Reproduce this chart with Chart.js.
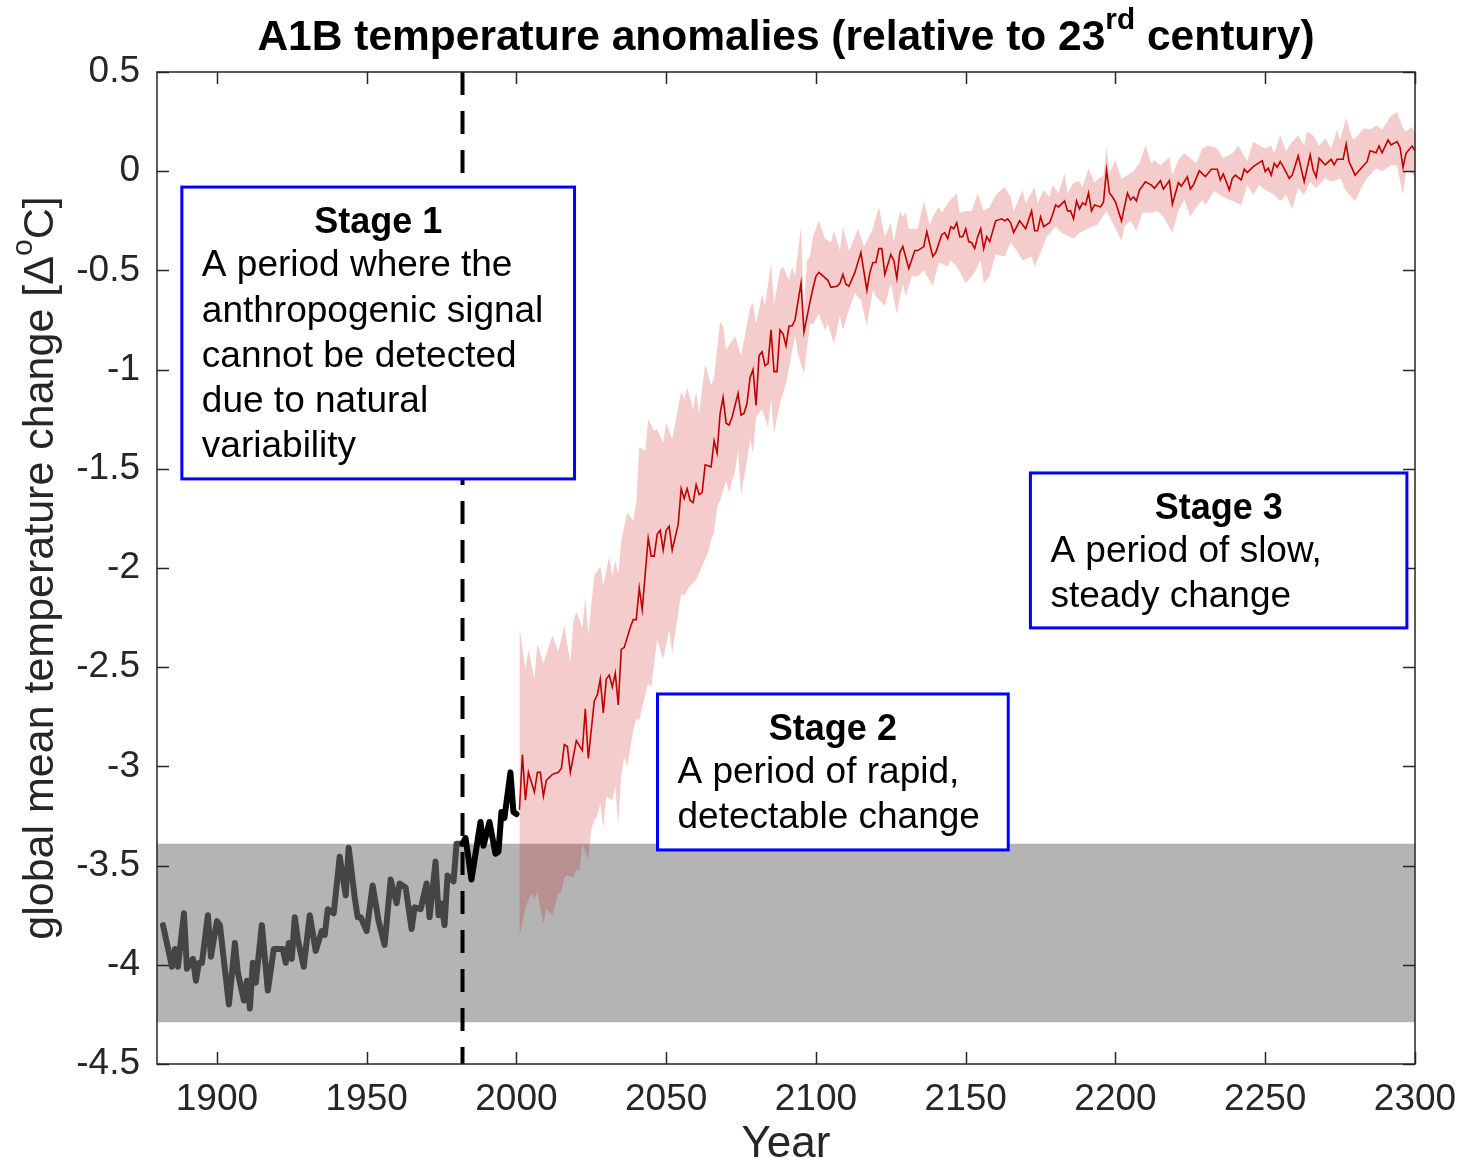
<!DOCTYPE html>
<html>
<head>
<meta charset="utf-8">
<script src="https://cdn.jsdelivr.net/npm/chart.js@4.4.1/dist/chart.umd.min.js"></script>
<style>
  html, body { margin: 0; padding: 0; background: #fff; }
  canvas { display: block; }
</style>
</head>
<body>
<canvas id="chart" width="1462" height="1162"></canvas>
<script>
// observed record, grey part (before detection)
const histYears = [1882, 1885, 1886, 1887, 1889, 1890, 1892, 1893, 1894, 1895,
  1897, 1898, 1900, 1901, 1904, 1906, 1907, 1909, 1910, 1911,
  1912, 1913, 1915, 1917, 1919, 1921, 1922, 1923, 1924, 1925,
  1926, 1927, 1929, 1931, 1933, 1935, 1936, 1937, 1939, 1941,
  1943, 1944, 1946, 1947, 1948, 1950, 1952, 1954, 1956, 1958,
  1960, 1961, 1963, 1965, 1966, 1968, 1970, 1971, 1973, 1974,
  1975, 1976, 1977, 1979, 1980, 1982];
const histTemps = [-3.80, -4.01, -3.92, -4.01, -3.74, -4.02, -3.97, -4.08, -3.99, -3.99,
  -3.75, -3.96, -3.78, -3.80, -4.20, -3.89, -4.04, -4.18, -4.08, -4.22,
  -3.99, -4.09, -3.80, -4.13, -3.92, -3.92, -3.92, -3.99, -3.89, -3.97,
  -3.76, -3.87, -4.01, -3.75, -3.93, -3.83, -3.85, -3.72, -3.74, -3.455,
  -3.65, -3.41, -3.66, -3.76, -3.76, -3.83, -3.60, -3.78, -3.90, -3.57,
  -3.69, -3.59, -3.61, -3.82, -3.71, -3.72, -3.59, -3.76, -3.48, -3.75,
  -3.69, -3.80, -3.55, -3.58, -3.39, -3.39];

// observed record, black part
const recentYears = [1982, 1983, 1985, 1988, 1989, 1991, 1993, 1994, 1995, 1996, 1998, 1999, 2000];
const recentTemps = [-3.39, -3.36, -3.57, -3.28, -3.40, -3.28, -3.44, -3.43, -3.23, -3.26, -3.03, -3.23, -3.24];

// A1B ensemble mean
const projYears = [2001, 2002, 2003, 2004, 2006, 2007, 2008, 2009, 2010, 2012,
  2014, 2015, 2016, 2017, 2018, 2020, 2022, 2023, 2024, 2026,
  2027, 2028, 2029, 2030, 2031, 2032, 2033, 2034, 2035, 2036,
  2038, 2039, 2040, 2041, 2042, 2044, 2045, 2046, 2047, 2048,
  2049, 2050, 2051, 2052, 2054, 2055, 2056, 2057, 2058, 2059,
  2060, 2061, 2062, 2063, 2065, 2066, 2067, 2068, 2069, 2070,
  2071, 2072, 2073, 2074, 2075, 2076, 2077, 2078, 2079, 2080,
  2081, 2082, 2083, 2084, 2085, 2086, 2087, 2088, 2089, 2090,
  2091, 2092, 2093, 2095, 2096, 2098, 2099, 2100, 2101, 2104,
  2105, 2107, 2108, 2109, 2110, 2111, 2113, 2115, 2117, 2118,
  2119, 2120, 2121, 2122, 2123, 2125, 2126, 2127, 2128, 2129,
  2131, 2133, 2134, 2136, 2137, 2139, 2140, 2142, 2143, 2144,
  2145, 2146, 2147, 2148, 2149, 2150, 2151, 2152, 2153, 2154,
  2155, 2156, 2157, 2158, 2160, 2162, 2163, 2164, 2165, 2166,
  2168, 2170, 2172, 2173, 2174, 2175, 2176, 2178, 2179, 2180,
  2181, 2183, 2184, 2185, 2186, 2187, 2188, 2189, 2190, 2191,
  2192, 2193, 2195, 2196, 2197, 2198, 2199, 2200, 2202, 2204,
  2205, 2206, 2207, 2208, 2210, 2212, 2213, 2215, 2216, 2218,
  2219, 2221, 2222, 2224, 2225, 2226, 2228, 2230, 2232, 2234,
  2235, 2236, 2238, 2239, 2240, 2242, 2243, 2244, 2246, 2249,
  2250, 2251, 2252, 2253, 2254, 2255, 2256, 2258, 2259, 2261,
  2263, 2265, 2266, 2267, 2268, 2270, 2272, 2273, 2274, 2276,
  2277, 2278, 2280, 2282, 2284, 2285, 2287, 2288, 2289, 2291,
  2292, 2294, 2295, 2296, 2297, 2299, 2300];
const projTemps = [-3.22, -2.94, -3.17, -3.03, -3.13, -3.03, -3.03, -3.15, -3.07, -3.04,
  -3.03, -3.01, -2.89, -2.90, -3.03, -2.87, -2.92, -2.71, -2.96, -2.67,
  -2.64, -2.56, -2.73, -2.56, -2.54, -2.60, -2.53, -2.69, -2.41, -2.40,
  -2.30, -2.26, -2.26, -2.10, -2.21, -1.85, -1.94, -1.94, -1.83, -1.81,
  -1.91, -1.81, -1.79, -1.91, -1.78, -1.60, -1.65, -1.60, -1.66, -1.67,
  -1.58, -1.63, -1.62, -1.48, -1.49, -1.36, -1.42, -1.22, -1.14, -1.27,
  -1.28, -1.24, -1.18, -1.12, -1.23, -1.22, -1.17, -1.04, -1.00, -1.18,
  -0.93, -0.91, -0.98, -0.97, -0.80, -1.01, -1.01, -0.80, -0.82, -0.88,
  -0.78, -0.78, -0.75, -0.565, -0.81, -0.66, -0.59, -0.53, -0.51, -0.55,
  -0.585, -0.58, -0.565, -0.52, -0.57, -0.58, -0.51, -0.41, -0.60, -0.51,
  -0.46, -0.46, -0.39, -0.39, -0.52, -0.42, -0.45, -0.54, -0.41, -0.38,
  -0.49, -0.40, -0.40, -0.38, -0.305, -0.43, -0.41, -0.32, -0.31, -0.34,
  -0.28, -0.29, -0.26, -0.33, -0.33, -0.29, -0.355, -0.36, -0.39, -0.33,
  -0.29, -0.39, -0.33, -0.355, -0.25, -0.24, -0.25, -0.24, -0.26, -0.31,
  -0.25, -0.29, -0.20, -0.30, -0.30, -0.23, -0.28, -0.26, -0.22, -0.17,
  -0.18, -0.15, -0.20, -0.20, -0.24, -0.15, -0.19, -0.16, -0.17, -0.11,
  -0.20, -0.17, -0.18, -0.155, 0.006, -0.11, -0.13, -0.155, -0.25, -0.11,
  -0.145, -0.13, -0.15, -0.095, -0.053, -0.07, -0.086, -0.048, -0.09, -0.048,
  -0.166, -0.058, -0.075, -0.028, -0.09, -0.07, 0.003, -0.027, 0.01, 0.01,
  -0.044, -0.014, -0.095, -0.036, -0.02, -0.044, 0.01, -0.007, 0.023, 0.053,
  -0.002, 0.015, -0.02, 0.04, 0.02, 0.048, 0.023, -0.036, -0.02, 0.077,
  -0.053, 0.082, 0.006, -0.03, 0.065, 0.032, 0.06, 0.032, 0.06, 0.06,
  0.137, 0.048, -0.02, 0.015, 0.048, 0.103, 0.093, 0.127, 0.093, 0.157,
  0.132, 0.149, 0.12, 0.02, 0.09, 0.127, 0.103];

// ensemble spread, upper edge
const spreadTopYears = [2001, 2003, 2004, 2006, 2007, 2009, 2012, 2014, 2016, 2018,
  2019, 2020, 2022, 2023, 2024, 2026, 2028, 2029, 2031, 2032,
  2033, 2034, 2035, 2037, 2039, 2040, 2041, 2043, 2044, 2046,
  2047, 2049, 2050, 2052, 2055, 2056, 2057, 2059, 2060, 2061,
  2063, 2065, 2066, 2068, 2069, 2070, 2073, 2075, 2078, 2079,
  2080, 2082, 2083, 2085, 2086, 2088, 2089, 2091, 2092, 2093,
  2095, 2096, 2097, 2098, 2099, 2101, 2103, 2105, 2106, 2108,
  2109, 2111, 2113, 2114, 2116, 2117, 2119, 2121, 2123, 2125,
  2126, 2128, 2129, 2130, 2131, 2134, 2136, 2138, 2139, 2141,
  2142, 2144, 2147, 2148, 2150, 2152, 2154, 2156, 2158, 2160,
  2163, 2165, 2166, 2169, 2170, 2173, 2174, 2176, 2178, 2179,
  2181, 2183, 2184, 2186, 2188, 2189, 2191, 2193, 2194, 2196,
  2197, 2198, 2200, 2202, 2204, 2206, 2208, 2210, 2212, 2213,
  2215, 2218, 2219, 2221, 2223, 2225, 2227, 2229, 2231, 2234,
  2236, 2239, 2241, 2244, 2246, 2248, 2250, 2252, 2253, 2255,
  2257, 2258, 2261, 2263, 2264, 2266, 2268, 2270, 2272, 2274,
  2275, 2277, 2279, 2280, 2283, 2285, 2287, 2289, 2292, 2294,
  2296, 2297, 2299, 2300];
const spreadTopTemps = [-2.30, -2.51, -2.41, -2.56, -2.38, -2.48, -2.34, -2.42, -2.29, -2.48,
  -2.27, -2.22, -2.30, -2.15, -2.33, -2.04, -1.99, -2.09, -1.94, -2.04,
  -1.96, -2.03, -1.86, -1.72, -1.76, -1.67, -1.39, -1.41, -1.25, -1.31,
  -1.30, -1.37, -1.27, -1.35, -1.11, -1.15, -1.09, -1.20, -1.11, -1.22,
  -0.97, -1.08, -1.04, -0.76, -0.78, -0.90, -0.83, -0.93, -0.69, -0.66,
  -0.77, -0.62, -0.68, -0.46, -0.67, -0.50, -0.48, -0.55, -0.48, -0.53,
  -0.28, -0.70, -0.45, -0.43, -0.33, -0.25, -0.34, -0.36, -0.30, -0.40,
  -0.28, -0.40, -0.33, -0.29, -0.38, -0.35, -0.29, -0.18, -0.33, -0.26,
  -0.36, -0.20, -0.23, -0.21, -0.29, -0.29, -0.15, -0.27, -0.23, -0.18,
  -0.21, -0.16, -0.11, -0.21, -0.20, -0.20, -0.11, -0.20, -0.18, -0.12,
  -0.08, -0.13, -0.20, -0.095, -0.16, -0.08, -0.16, -0.095, -0.13, -0.07,
  -0.11, -0.01, -0.11, -0.06, -0.05, -0.08, 0.015, -0.06, -0.04, -0.02,
  0.12, -0.01, 0.056, -0.04, -0.02, 0.0, 0.04, 0.13, 0.04, 0.056,
  0.03, 0.07, -0.02, 0.056, 0.09, 0.065, 0.04, 0.115, 0.13, 0.115,
  0.065, 0.09, 0.13, 0.05, 0.15, 0.13, 0.115, 0.13, 0.09, 0.18,
  0.10, 0.13, 0.18, 0.13, 0.20, 0.18, 0.13, 0.165, 0.115, 0.21,
  0.157, 0.27, 0.165, 0.165, 0.216, 0.21, 0.23, 0.21, 0.28, 0.30,
  0.216, 0.20, 0.224, 0.19];

// ensemble spread, lower edge
const spreadBottomYears = [2001, 2003, 2005, 2006, 2007, 2008, 2009, 2010, 2012, 2014,
  2015, 2016, 2017, 2019, 2020, 2021, 2022, 2024, 2025, 2026,
  2027, 2028, 2029, 2030, 2032, 2033, 2034, 2035, 2036, 2037,
  2039, 2040, 2041, 2042, 2044, 2045, 2046, 2047, 2049, 2051,
  2052, 2054, 2055, 2056, 2058, 2060, 2062, 2064, 2065, 2066,
  2067, 2068, 2070, 2071, 2073, 2074, 2075, 2077, 2078, 2079,
  2080, 2082, 2084, 2085, 2086, 2088, 2090, 2093, 2094, 2096,
  2098, 2099, 2101, 2103, 2104, 2106, 2108, 2109, 2111, 2113,
  2115, 2117, 2119, 2120, 2123, 2125, 2127, 2129, 2130, 2132,
  2134, 2136, 2138, 2139, 2141, 2144, 2145, 2147, 2150, 2153,
  2155, 2156, 2158, 2160, 2163, 2165, 2167, 2169, 2172, 2173,
  2175, 2177, 2180, 2182, 2186, 2188, 2192, 2194, 2197, 2199,
  2202, 2203, 2205, 2207, 2209, 2212, 2214, 2216, 2219, 2221,
  2223, 2225, 2227, 2229, 2230, 2233, 2235, 2237, 2239, 2242,
  2244, 2246, 2248, 2250, 2253, 2255, 2257, 2259, 2261, 2263,
  2265, 2267, 2268, 2270, 2272, 2275, 2277, 2280, 2282, 2284,
  2287, 2289, 2292, 2294, 2296, 2297, 2299, 2300];
const spreadBottomTemps = [-3.86, -3.71, -3.64, -3.67, -3.63, -3.72, -3.79, -3.72, -3.75, -3.64,
  -3.63, -3.56, -3.55, -3.56, -3.52, -3.53, -3.39, -3.47, -3.32, -3.27,
  -3.25, -3.19, -3.31, -3.15, -3.17, -3.10, -3.29, -3.05, -2.95, -3.00,
  -2.82, -2.76, -2.77, -2.70, -2.58, -2.60, -2.48, -2.36, -2.46, -2.31,
  -2.43, -2.23, -2.13, -2.14, -2.09, -2.06, -1.99, -1.92, -1.86, -1.82,
  -1.69, -1.66, -1.56, -1.62, -1.51, -1.41, -1.63, -1.46, -1.35, -1.42,
  -1.24, -1.20, -1.29, -1.15, -1.32, -1.17, -1.07, -0.83, -0.92, -1.02,
  -0.77, -0.77, -0.72, -0.80, -0.77, -0.87, -0.73, -0.80, -0.70, -0.615,
  -0.65, -0.78, -0.60, -0.63, -0.68, -0.565, -0.72, -0.565, -0.63, -0.53,
  -0.53, -0.50, -0.55, -0.58, -0.46, -0.48, -0.45, -0.48, -0.565, -0.51,
  -0.45, -0.565, -0.53, -0.42, -0.43, -0.36, -0.40, -0.45, -0.43, -0.48,
  -0.41, -0.33, -0.28, -0.31, -0.34, -0.31, -0.28, -0.27, -0.20, -0.26,
  -0.35, -0.28, -0.25, -0.30, -0.21, -0.21, -0.20, -0.23, -0.31, -0.20,
  -0.145, -0.23, -0.18, -0.145, -0.17, -0.10, -0.12, -0.137, -0.15, -0.17,
  -0.07, -0.12, -0.07, -0.095, -0.12, -0.15, -0.12, -0.19, -0.086, -0.12,
  -0.053, -0.086, -0.07, -0.036, -0.053, -0.036, -0.10, -0.15, -0.086, -0.036,
  0.015, 0.0, 0.03, 0.03, -0.12, 0.0, -0.01, -0.03];

// natural variability range (grey band) and the detection year
const naturalRangeTop = -3.39;
const naturalRangeBottom = -4.29;
const detectionYear = 1982;

const xTicks = [1900, 1950, 2000, 2050, 2100, 2150, 2200, 2250, 2300];
const yTicks = [0.5, 0, -0.5, -1, -1.5, -2, -2.5, -3, -3.5, -4, -4.5];
const yTickLabels = ['0.5', '0', '-0.5', '-1', '-1.5', '-2', '-2.5', '-3', '-3.5', '-4', '-4.5'];

const stages = [
  { x0: 1888.3, x1: 2019.4, y0: -0.08, y1: -1.551, title: 'Stage 1',
    lines: ['A period where the', 'anthropogenic signal', 'cannot be detected', 'due to natural', 'variability'] },
  { x0: 2047.1, x1: 2164.2, y0: -2.635, y1: -3.421, title: 'Stage 2',
    lines: ['A period of rapid,', 'detectable change'] },
  { x0: 2171.6, x1: 2297.3, y0: -1.521, y1: -2.302, title: 'Stage 3',
    lines: ['A period of slow,', 'steady change'] }
];

const FONT = '"Liberation Sans", Arial, Helvetica, sans-serif';
const AXIS_COLOR = '#262626';

function toPoints(xs, ys) {
  return xs.map((x, i) => ({ x: x, y: ys[i] }));
}

// draws a string with a superscript part, starting at x (left), on baseline y
function drawSup(ctx, parts, x, y, size, bold) {
  const w = bold ? 'bold ' : '';
  let cx = x;
  parts.forEach(p => {
    const s = p.sup ? size * 0.7 : size;
    ctx.font = w + s + 'px ' + FONT;
    ctx.fillText(p.t, cx, p.sup ? y - size * 0.5 : y);
    cx += ctx.measureText(p.t).width;
  });
}
function supWidth(ctx, parts, size, bold) {
  const w = bold ? 'bold ' : '';
  let total = 0;
  parts.forEach(p => {
    ctx.font = w + (p.sup ? size * 0.7 : size) + 'px ' + FONT;
    total += ctx.measureText(p.t).width;
  });
  return total;
}

const decor = {
  id: 'decor',
  afterDatasetsDraw(chart) {
    const { ctx, chartArea: a, scales: { x, y } } = chart;
    ctx.save();
    ctx.strokeStyle = AXIS_COLOR;
    ctx.lineWidth = 1.5;
    ctx.beginPath();
    xTicks.forEach(v => {
      const px = Math.round(x.getPixelForValue(v)) + 0.5;
      ctx.moveTo(px, a.bottom); ctx.lineTo(px, a.bottom - 12);
      ctx.moveTo(px, a.top); ctx.lineTo(px, a.top + 12);
    });
    yTicks.forEach(v => {
      const py = Math.round(y.getPixelForValue(v)) + 0.5;
      ctx.moveTo(a.left, py); ctx.lineTo(a.left + 12, py);
      ctx.moveTo(a.right, py); ctx.lineTo(a.right - 12, py);
    });
    ctx.stroke();
    ctx.strokeRect(a.left, a.top, a.right - a.left, a.bottom - a.top);
    ctx.restore();
  },
  afterDraw(chart) {
    const { ctx, chartArea: a, scales: { x, y } } = chart;
    ctx.save();

    // stage boxes
    stages.forEach(s => {
      const left = x.getPixelForValue(s.x0), right = x.getPixelForValue(s.x1);
      const top = y.getPixelForValue(s.y0), bottom = y.getPixelForValue(s.y1);
      ctx.fillStyle = '#fff';
      ctx.fillRect(left, top, right - left, bottom - top);
      ctx.strokeStyle = '#0000ff';
      ctx.lineWidth = 3;
      ctx.strokeRect(left, top, right - left, bottom - top);
      ctx.fillStyle = '#000';
      ctx.textBaseline = 'middle';
      ctx.textAlign = 'center';
      ctx.font = 'bold 36px ' + FONT;
      ctx.fillText(s.title, (left + right) / 2, top + 36);
      ctx.textAlign = 'left';
      ctx.font = '37px ' + FONT;
      s.lines.forEach((l, i) => ctx.fillText(l, left + 20, top + 79 + i * 45.3));
    });

    // title
    ctx.fillStyle = '#000';
    ctx.textAlign = 'left';
    ctx.textBaseline = 'alphabetic';
    const title = [{ t: 'A1B temperature anomalies (relative to 23' }, { t: 'rd', sup: true }, { t: ' century)' }];
    const tw = supWidth(ctx, title, 42.5, true);
    drawSup(ctx, title, (a.left + a.right) / 2 - tw / 2, 50, 42.5, true);

    // x axis title
    ctx.fillStyle = AXIS_COLOR;
    ctx.textAlign = 'center';
    ctx.font = '44px ' + FONT;
    ctx.fillText('Year', (a.left + a.right) / 2, 1157);

    // y axis title
    const ylab = [{ t: 'global mean temperature change [\u0394' }, { t: 'o', sup: true }, { t: 'C]' }];
    ctx.textAlign = 'left';
    const yw = supWidth(ctx, ylab, 43, false);
    ctx.translate(53, (a.top + a.bottom) / 2);
    ctx.rotate(-Math.PI / 2);
    drawSup(ctx, ylab, -yw / 2, 0, 43, false);
    ctx.restore();
  }
};

const noLine = { borderColor: 'transparent', borderWidth: 0, pointRadius: 0 };

new Chart(document.getElementById('chart'), {
  type: 'line',
  data: {
    datasets: [
      Object.assign({ data: [{ x: 1880, y: naturalRangeTop }, { x: 2300, y: naturalRangeTop }], fill: false, order: 10 }, noLine),
      Object.assign({ data: [{ x: 1880, y: naturalRangeBottom }, { x: 2300, y: naturalRangeBottom }], fill: '-1',
        backgroundColor: '#b4b4b4', order: 9 }, noLine),
      Object.assign({ data: toPoints(spreadTopYears, spreadTopTemps), fill: false, order: 8 }, noLine),
      Object.assign({ data: toPoints(spreadBottomYears, spreadBottomTemps), fill: '-1',
        backgroundColor: 'rgba(200, 0, 0, 0.2)', order: 7 }, noLine),
      { data: toPoints(projYears, projTemps), borderColor: '#bf0000', borderWidth: 1.6, pointRadius: 0, fill: false, order: 6 },
      { data: toPoints(histYears, histTemps), borderColor: '#454545', borderWidth: 6, pointRadius: 0, fill: false,
        borderJoinStyle: 'round', borderCapStyle: 'round', order: 5 },
      { data: toPoints(recentYears, recentTemps), borderColor: '#000', borderWidth: 6, pointRadius: 0, fill: false,
        borderJoinStyle: 'round', borderCapStyle: 'round', order: 4 },
      { data: [{ x: detectionYear, y: 0.5 }, { x: detectionYear, y: -4.5 }], borderColor: '#000', borderWidth: 4,
        borderDash: [23, 16], pointRadius: 0, fill: false, order: 3 }
    ]
  },
  options: {
    responsive: false,
    animation: false,
    devicePixelRatio: 1,
    events: [],
    layout: { padding: { top: 72, right: 47, left: 0, bottom: 0 } },
    plugins: { legend: { display: false }, tooltip: { enabled: false }, title: { display: false } },
    elements: { line: { tension: 0 } },
    scales: {
      x: {
        type: 'linear', min: 1880, max: 2300,
        afterBuildTicks: s => { s.ticks = xTicks.map(v => ({ value: v })); },
        afterFit: s => { s.height = 98; s.paddingLeft = 0; s.paddingRight = 0; },
        grid: { display: false, drawTicks: false },
        border: { display: false },
        ticks: { font: { family: FONT, size: 37 }, color: AXIS_COLOR, padding: 14, maxRotation: 0, autoSkip: false,
          callback: v => String(v) }
      },
      y: {
        type: 'linear', min: -4.5, max: 0.5,
        afterBuildTicks: s => { s.ticks = yTicks.map(v => ({ value: v })); },
        afterFit: s => { s.width = 157; s.paddingTop = 0; s.paddingBottom = 0; },
        grid: { display: false, drawTicks: false },
        border: { display: false },
        ticks: { font: { family: FONT, size: 37 }, color: AXIS_COLOR, padding: 17, autoSkip: false,
          callback: (v, i) => yTickLabels[i] }
      }
    }
  },
  plugins: [decor]
});
</script>
</body>
</html>
